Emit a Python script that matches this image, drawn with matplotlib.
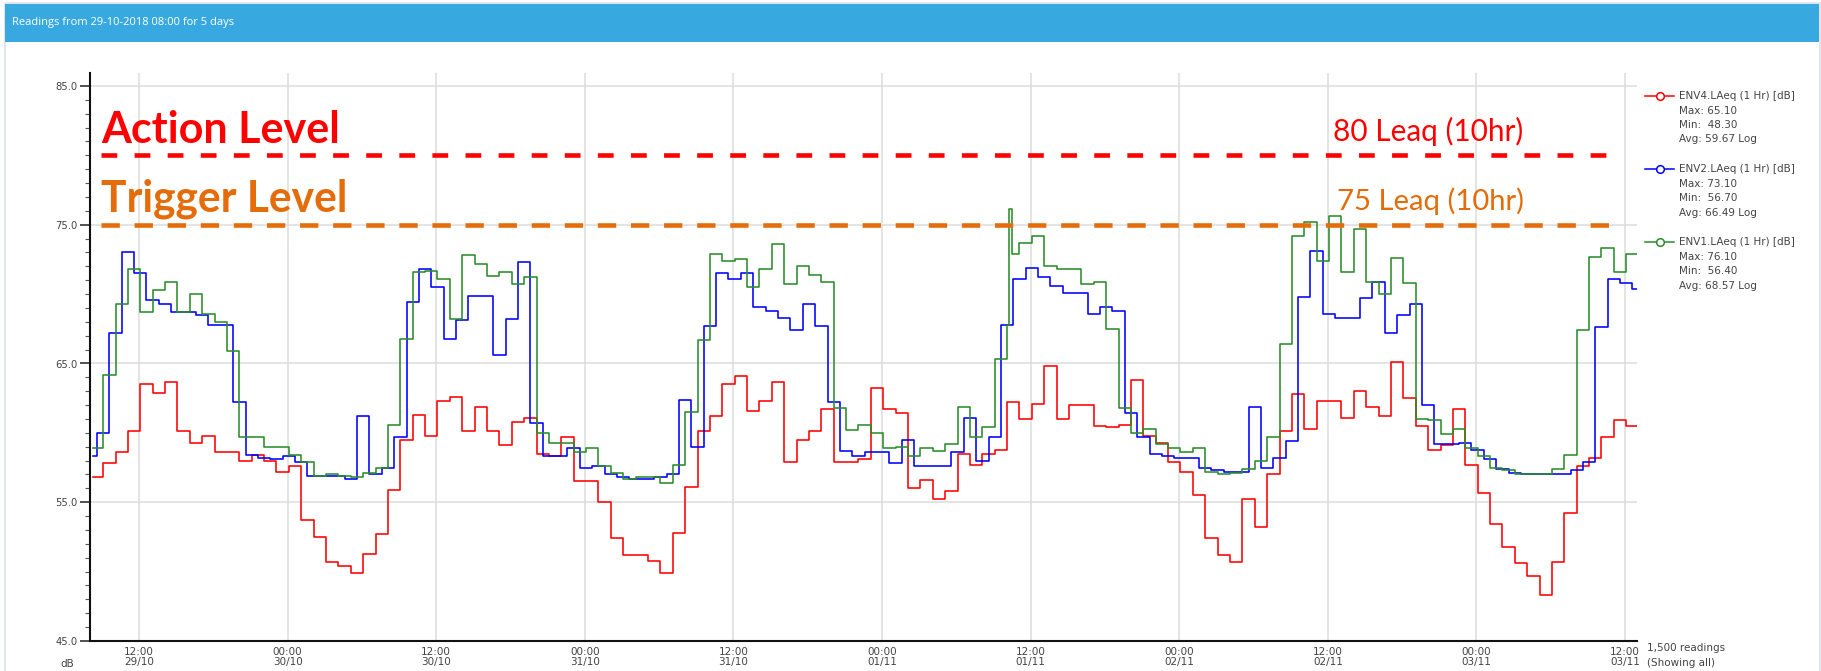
import numpy as np
import matplotlib
matplotlib.use("Agg")
import matplotlib.pyplot as plt
from matplotlib.patches import Rectangle
from matplotlib.ticker import MultipleLocator, FixedLocator

# ---------------- data ----------------
title = "Readings from 29-10-2018 08:00 for 5 days"

# hours after 29-10-2018 08:00
first_reading_h = 0.3
last_reading_h = 125.0
hourly_phase_h = 0.1      # ENV4 / ENV1 hourly steps change at hh:06
blue_phase_h = -0.4       # ENV2 hourly steps change at hh:36

tick_hours = [4, 16, 28, 40, 52, 64, 76, 88, 100, 112, 124]
tick_labels = ["12:00\n29/10", "00:00\n30/10", "12:00\n30/10", "00:00\n31/10",
               "12:00\n31/10", "00:00\n01/11", "12:00\n01/11", "00:00\n02/11",
               "12:00\n02/11", "00:00\n03/11", "12:00\n03/11"]
y_ticks = [45, 55, 65, 75, 85]

env4_red = [56.8, 57.8, 58.6, 60.1, 63.5, 62.9, 63.7, 60.1, 59.3, 59.8,
            58.6, 58.6, 58.0, 58.4, 58.0, 57.2, 57.6, 53.7, 52.5, 50.7,
            50.4, 49.9, 51.3, 52.7, 55.9,
            59.5, 61.3, 59.8, 62.3, 62.6, 60.1, 61.9, 60.1, 59.1, 60.8,
            61.1, 58.5, 58.3, 59.7, 56.5, 56.5, 55.0, 52.4, 51.2, 51.2,
            50.8, 49.9, 52.8, 56.1, 60.1,
            61.2, 63.5, 64.1, 61.6, 62.3, 63.7, 57.9, 59.5, 60.1, 61.7,
            57.9, 57.9, 58.1, 63.2, 61.7, 61.4, 56.0, 56.6, 55.2, 55.8,
            58.5, 57.7, 58.5, 58.8, 62.2,
            61.0, 62.1, 64.8, 61.0, 62.0, 62.0, 60.5, 60.4, 60.6, 63.8,
            59.8, 59.3, 57.9, 57.2, 55.5, 52.4, 51.2, 50.7, 55.2, 53.2,
            57.0, 60.1, 62.8, 60.3, 62.3,
            62.3, 61.1, 63.0, 61.9, 61.2, 65.1, 62.5, 60.5, 58.8, 59.1,
            61.7, 57.7, 55.7, 53.4, 51.8, 50.6, 49.7, 48.3, 50.7, 54.2,
            57.6, 58.2, 59.7, 60.9, 60.5]

env2_blue = [58.3, 60.0, 67.2, 73.0, 71.5, 69.6, 69.3, 68.7, 68.7, 68.5,
             67.8, 67.8, 62.2, 58.4, 58.2, 58.1, 58.3, 57.9, 56.9, 56.9,
             56.9, 56.7, 61.2, 57.0, 57.5,
             59.7, 69.4, 71.8, 70.5, 66.8, 68.1, 69.9, 69.9, 65.6, 68.2,
             72.3, 60.7, 58.3, 58.3, 58.9, 57.5, 57.6, 57.0, 56.8, 56.7,
             56.7, 56.8, 57.0, 62.4, 59.0,
             67.7, 71.5, 71.1, 71.5, 69.1, 68.8, 68.3, 67.4, 69.3, 67.7,
             62.2, 58.7, 58.3, 58.6, 58.6, 57.8, 59.5, 57.6, 57.6, 57.6,
             58.6, 61.1, 58.0, 59.7, 67.8,
             71.1, 71.9, 71.2, 70.6, 70.1, 70.1, 68.6, 69.1, 68.8, 61.4,
             59.7, 58.5, 58.3, 58.2, 58.2, 57.5, 57.3, 57.2, 57.2, 61.9,
             57.5, 58.2, 59.4, 69.8, 73.1,
             68.6, 68.3, 68.3, 69.7, 70.9, 67.2, 68.5, 69.3, 62.0, 59.2,
             59.2, 59.3, 58.8, 58.1, 57.4, 57.1, 57.0, 57.0, 57.0, 57.0,
             57.3, 57.9, 67.6, 71.1, 70.8,
             70.4]

env1_green = [58.9, 64.2, 69.3, 71.8, 68.7, 70.3, 70.9, 68.7, 70.0, 68.6,
              68.0, 65.9, 59.7, 59.7, 59.0, 59.0, 58.4, 57.9, 56.9, 57.0,
              56.9, 56.8, 57.1, 57.5, 60.6,
              66.8, 71.6, 71.7, 71.1, 68.2, 72.8, 72.2, 71.3, 71.6, 70.7,
              71.2, 60.0, 59.3, 59.3, 58.6, 58.9, 57.6, 57.1, 56.7, 56.8,
              56.8, 56.4, 57.7, 61.5, 66.7,
              72.9, 72.4, 72.5, 70.5, 71.8, 73.6, 70.7, 72.0, 71.4, 70.9,
              61.8, 60.2, 60.6, 60.0, 58.9, 59.0, 58.3, 58.9, 58.7, 59.2,
              61.9, 59.7, 60.4, 65.3, 67.8,
              73.7, 74.2, 72.0, 71.8, 71.8, 70.7, 70.9, 67.5, 61.8, 60.0,
              60.3, 59.2, 58.9, 58.6, 58.9, 57.2, 57.0, 57.1, 57.4, 58.0,
              59.7, 66.4, 74.2, 75.2, 72.4,
              75.6, 71.6, 74.7, 70.9, 70.0, 72.6, 70.8, 61.0, 60.9, 59.9,
              60.3, 58.9, 58.3, 57.5, 57.3, 57.0, 57.0, 57.0, 57.4, 58.4,
              67.4, 72.7, 73.3, 71.6, 72.9]
# short peak of ENV1 on 01/11 around 12:15
env1_peak_h = [74.25, 74.5]
env1_peak_db = [76.1, 72.9]

legend_names = ["ENV4.LAeq (1 Hr) [dB]", "ENV2.LAeq (1 Hr) [dB]", "ENV1.LAeq (1 Hr) [dB]"]
legend_max = ["65.10", "73.10", "76.10"]
legend_min = ["48.30", "56.70", "56.40"]
legend_avg = ["59.67", "66.49", "68.57"]

action_level = 80
trigger_level = 75

RED = "#FF0000"
BLUE = "#0000FF"
GREEN = "#2A8C2A"
ORANGE = "#E46C0A"
TXT = "#444444"


def steps(vals, phase, extra_t=(), extra_v=()):
    starts = np.arange(len(vals), dtype=float) + phase
    starts[0] = first_reading_h
    t = np.concatenate([starts, np.asarray(extra_t, float)])
    v = np.concatenate([np.asarray(vals, float), np.asarray(extra_v, float)])
    order = np.argsort(t, kind="stable")
    t, v = t[order], v[order]
    return np.append(t, last_reading_h), np.append(v, v[-1])


# ---------------- figure ----------------
W, H = 1821, 671
fig = plt.figure(figsize=(W / 100, H / 100), dpi=100)
fig.patch.set_facecolor("white")

ov = fig.add_axes([0, 0, 1, 1], zorder=0)
ov.set_xlim(0, W)
ov.set_ylim(H, 0)
ov.axis("off")

ov.add_patch(Rectangle((5, 3), 1815, 700, facecolor="none", edgecolor="#dde2e8", lw=1.2))
ov.add_patch(Rectangle((5, 4), 1814, 38, facecolor="#38A9E0", edgecolor="none"))
ov.text(12, 23, title, color="white", fontsize=8, family="Open Sans", va="center", ha="left")

# main axes
x_left, x_right, y_top, y_bot = 89.5, 1637.4, 73, 641
ax = fig.add_axes([x_left / W, 1 - y_bot / H, (x_right - x_left) / W, (y_bot - y_top) / H], zorder=1)
ax.set_xlim(0, 125)
ax.set_ylim(45, 85 + 13 / 13.875)
for s in ["top", "right"]:
    ax.spines[s].set_visible(False)
for s in ["left", "bottom"]:
    ax.spines[s].set_linewidth(1.5)
    ax.spines[s].set_color("#111111")

ax.set_yticks(y_ticks)
ax.set_yticklabels([f"{v:.1f}" for v in y_ticks])
ax.yaxis.set_minor_locator(MultipleLocator(1))
ax.tick_params(axis="y", which="major", length=7.2, width=1.1, color="#222222",
               labelsize=7.2, labelcolor=TXT, pad=1.5)
ax.tick_params(axis="y", which="minor", length=3.6, width=0.8, color="#555555")
ax.set_xticks(tick_hours)
ax.set_xticklabels(tick_labels)
ax.tick_params(axis="x", length=0, labelsize=7.5, labelcolor=TXT, pad=4)
for lbl in ax.get_xticklabels():
    lbl.set_linespacing(1.0)
ax.set_axisbelow(True)
ax.grid(True, which="major", color="#dcdcdc", lw=1.1)

for vals, phase, col, et, ev in [(env4_red, hourly_phase_h, RED, (), ()),
                                 (env2_blue, blue_phase_h, BLUE, (), ()),
                                 (env1_green, hourly_phase_h, GREEN, env1_peak_h, env1_peak_db)]:
    t, v = steps(vals, phase, et, ev)
    ax.step(t, v, where="post", color=col, lw=1.15, zorder=3)

# threshold overlays
tr = ax.get_yaxis_transform()
xa0 = (101 - x_left) / (x_right - x_left)
xa1 = (1618 - x_left) / (x_right - x_left)
ax.plot([xa0, xa1], [action_level] * 2, transform=tr, color=RED, lw=3.3,
        dashes=(3.44, 3.78), dash_capstyle="butt", clip_on=False, zorder=6)
ax.plot([xa0, xa1], [trigger_level] * 2, transform=tr, color=ORANGE, lw=3.3,
        dashes=(4.0, 3.22), dash_capstyle="butt", clip_on=False, zorder=6)

t_action = ax.text(xa0, action_level + 0.87, "Action Level", transform=tr, color=RED,
                   fontweight="bold", family="Lato", fontsize=34, va="baseline", ha="left", zorder=7)
t_trigger = ax.text(xa0, trigger_level + 0.94, "Trigger Level", transform=tr, color=ORANGE,
                    fontweight="bold", family="Lato", fontsize=34, va="baseline", ha="left", zorder=7)
t_80 = ax.text((1333 - x_left) / (x_right - x_left), action_level + 1.06, "80 Leaq (10hr)",
               transform=tr, color=RED, family="Lato", fontsize=22, va="baseline", ha="left", zorder=7)
t_75 = ax.text((1337 - x_left) / (x_right - x_left), trigger_level + 1.06, "75 Leaq (10hr)",
               transform=tr, color=ORANGE, family="Lato", fontsize=22, va="baseline", ha="left", zorder=7)

# legend
series_cols = [RED, BLUE, GREEN]
for i, name in enumerate(legend_names):
    y = 96 + 73.2 * i
    ov.plot([1645, 1674], [y, y], color=series_cols[i], lw=1.1)
    ov.plot([1660], [y], marker="o", ms=5.5, mfc="white", mec=series_cols[i], mew=1.1)
    ov.text(1679, y, name, fontsize=7.5, color=TXT, va="center", ha="left")
    ov.text(1679, y + 14.5, f"Max: {legend_max[i]}", fontsize=7.5, color=TXT, va="center", ha="left")
    ov.text(1679, y + 28.8, f"Min:  {legend_min[i]}", fontsize=7.5, color=TXT, va="center", ha="left")
    ov.text(1679, y + 43.3, f"Avg: {legend_avg[i]} Log", fontsize=7.5, color=TXT, va="center", ha="left")

ov.text(67, 664, "dB", fontsize=7.5, color=TXT, ha="center", va="center")
ov.text(1647, 648, "1,500 readings", fontsize=7.5, color=TXT, ha="left", va="center")
ov.text(1647, 663, "(Showing all)", fontsize=7.5, color=TXT, ha="left", va="center")

# fit overlay label widths to the reference
renderer = fig.canvas.get_renderer()
for txt, target in [(t_action, 239), (t_trigger, 247), (t_80, 189), (t_75, 186)]:
    w = txt.get_window_extent(renderer).width
    txt.set_fontsize(txt.get_fontsize() * target / w)

fig.savefig("out.png", dpi=100, facecolor="white")
